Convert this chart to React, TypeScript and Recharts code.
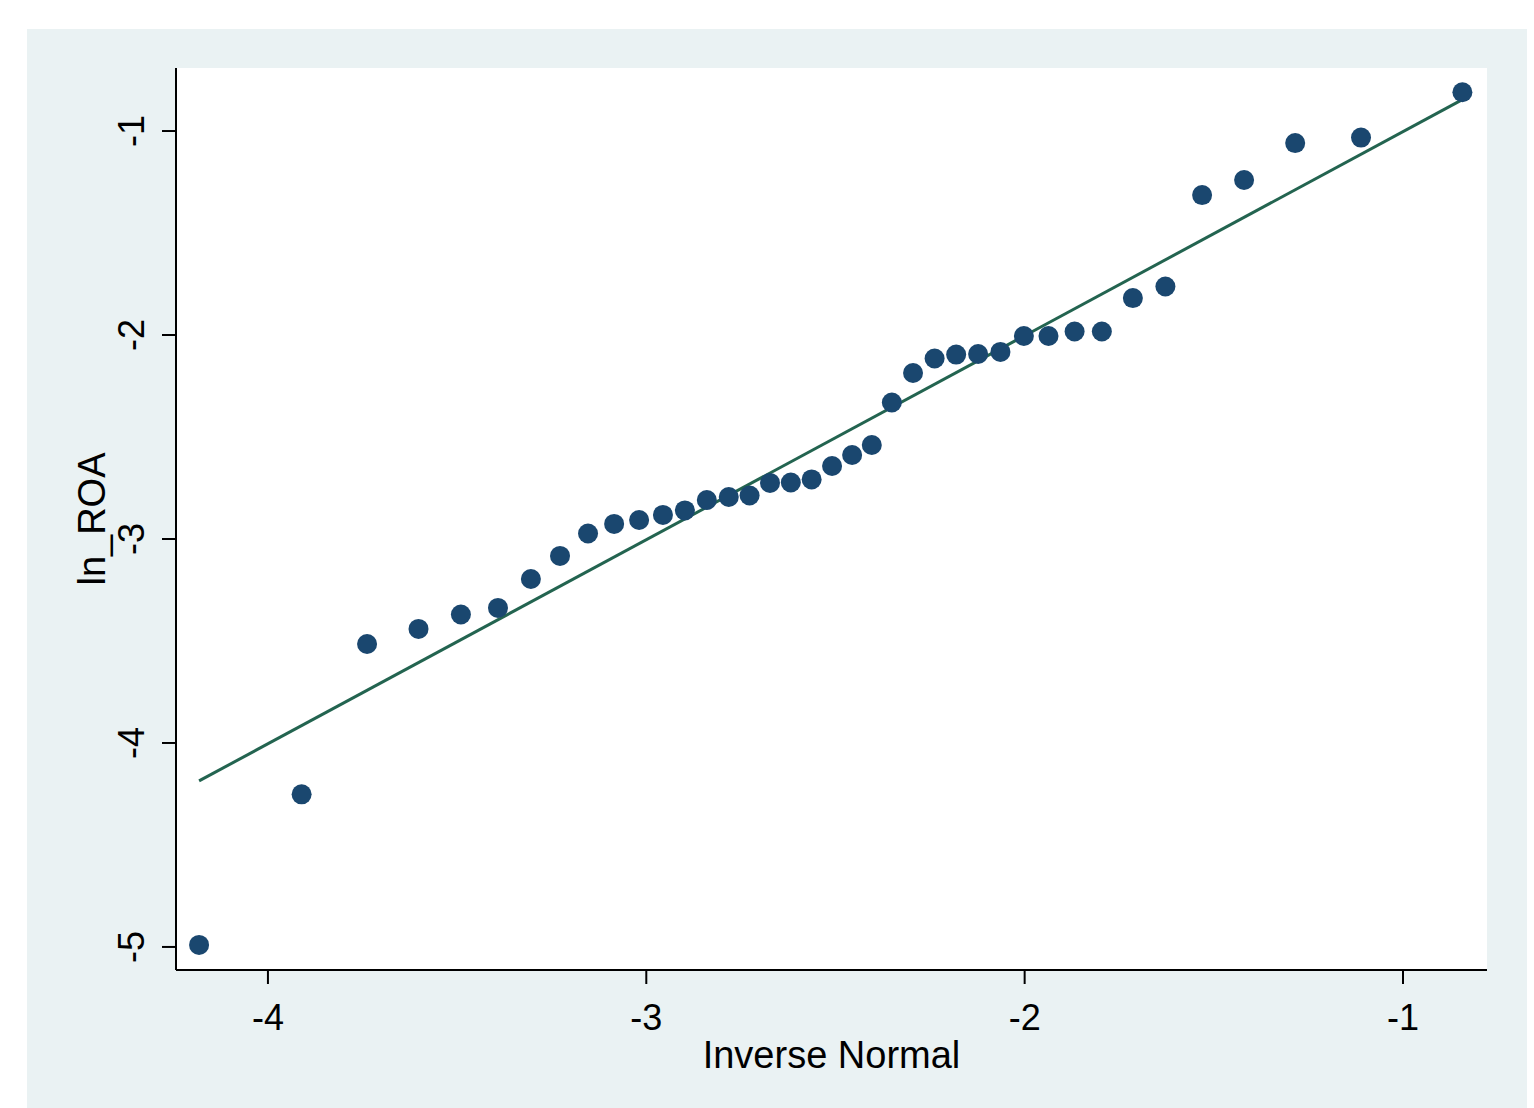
import React from 'react';
import { ComposedChart, Scatter, XAxis, YAxis, CartesianGrid } from 'recharts';

// Inverse normal quantiles (x) vs. observed ln_ROA (y)
const invNormal = [
  -4.182, -3.911, -3.738, -3.602, -3.490, -3.392, -3.305, -3.228, -3.154, -3.085,
  -3.019, -2.956, -2.898, -2.840, -2.782, -2.727, -2.673, -2.618, -2.563, -2.509,
  -2.456, -2.404, -2.351, -2.295, -2.238, -2.181, -2.123, -2.064, -2.002, -1.937,
  -1.868, -1.796, -1.714, -1.628, -1.531, -1.420, -1.285, -1.111, -0.843,
];
const lnRoa = [
  -4.990, -4.252, -3.515, -3.441, -3.370, -3.338, -3.196, -3.083, -2.973, -2.926,
  -2.907, -2.882, -2.860, -2.809, -2.794, -2.787, -2.725, -2.723, -2.708, -2.642,
  -2.588, -2.539, -2.331, -2.186, -2.115, -2.096, -2.093, -2.083, -2.005, -2.005,
  -1.983, -1.983, -1.819, -1.762, -1.314, -1.240, -1.059, -1.032, -0.810,
];

// reference line end points
const fitX = [-4.182, -0.842];
const fitY = [-4.186, -0.845];

const xTicks = [-4, -3, -2, -1];
const yTicks = [-5, -4, -3, -2, -1];

const points = invNormal.map((x, i) => ({ x, y: lnRoa[i] }));
const fitLine = fitX.map((x, i) => ({ x, y: fitY[i] }));

const FONT = '"Liberation Sans", Arial, sans-serif';
const DOT = '#1a476f';
const LINE = '#236450';

const Dot = (props: any) => <circle cx={props.cx} cy={props.cy} r={10} fill={DOT} />;
const NoDot = () => <g />;

const XTick = (props: any) => (
  <text x={props.x} y={props.y} textAnchor="middle" dominantBaseline="central"
    fontFamily={FONT} fontSize={36} fill="#000">
    {props.payload.value}
  </text>
);

const YTick = (props: any) => (
  <text x={props.x} y={props.y} textAnchor="middle" dominantBaseline="central"
    transform={`rotate(-90, ${props.x}, ${props.y})`}
    fontFamily={FONT} fontSize={36} fill="#000">
    {props.payload.value}
  </text>
);

const XTitle = (props: any) => {
  const vb = props.viewBox;
  return (
    <text x={vb.x + vb.width / 2} y={vb.y + 85} textAnchor="middle" dominantBaseline="central"
      fontFamily={FONT} fontSize={38} fill="#000">
      Inverse Normal
    </text>
  );
};

const YTitle = (props: any) => {
  const vb = props.viewBox;
  const cy = vb.y + vb.height / 2;
  return (
    <text x={92} y={cy} textAnchor="middle" dominantBaseline="central"
      transform={`rotate(-90, 92, ${cy})`}
      fontFamily={FONT} fontSize={38} fill="#000">
      ln_ROA
    </text>
  );
};

const App: React.FC = () => {
  return (
    <div style={{ position: 'absolute', left: 0, top: 0, width: 1534, height: 1108, background: '#fff' }}>
      <div style={{ position: 'absolute', left: 27, top: 29, width: 1500, height: 1079, background: '#eaf2f3' }} />
      <div style={{ position: 'absolute', left: 0, top: 0 }}>
        <ComposedChart width={1534} height={1108} margin={{ top: 68, right: 47, bottom: 48, left: 0 }}>
          <CartesianGrid horizontal={false} vertical={false} fill="#fff" stroke="none" />
          <XAxis
            type="number"
            dataKey="x"
            domain={[-4.243, -0.778]}
            ticks={xTicks}
            allowDataOverflow
            height={90}
            tickSize={14}
            tickMargin={33}
            axisLine={{ stroke: '#000', strokeWidth: 2 }}
            tickLine={{ stroke: '#000', strokeWidth: 2 }}
            tick={<XTick />}
            label={{ content: <XTitle /> }}
          />
          <YAxis
            type="number"
            dataKey="y"
            domain={[-5.113, -0.691]}
            ticks={yTicks}
            allowDataOverflow
            width={176}
            tickSize={14}
            tickMargin={30}
            axisLine={{ stroke: '#000', strokeWidth: 2 }}
            tickLine={{ stroke: '#000', strokeWidth: 2 }}
            tick={<YTick />}
            label={{ content: <YTitle /> }}
          />
          <Scatter data={fitLine} line={{ stroke: LINE, strokeWidth: 3 }} shape={<NoDot />} isAnimationActive={false} />
          <Scatter data={points} shape={<Dot />} isAnimationActive={false} />
        </ComposedChart>
      </div>
    </div>
  );
};

export default App;
